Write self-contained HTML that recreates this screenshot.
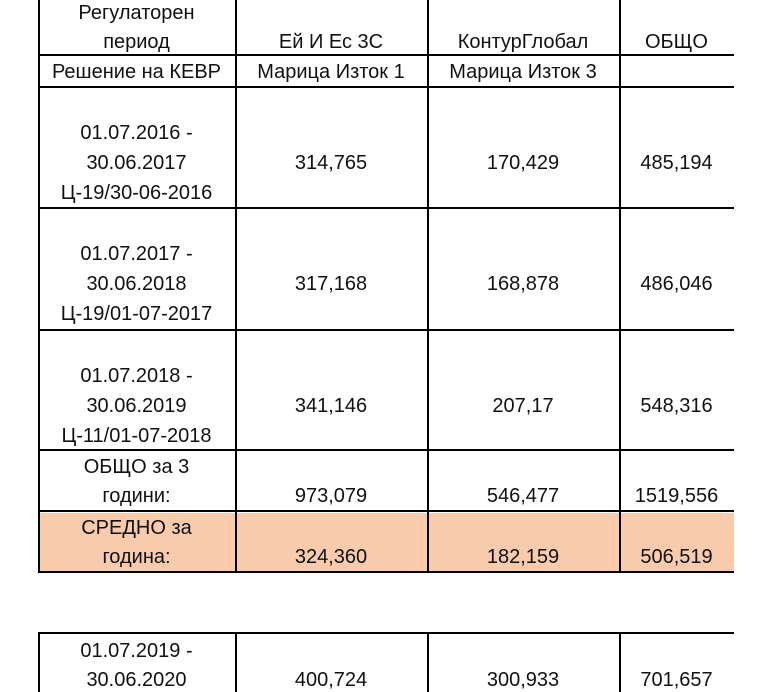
<!DOCTYPE html>
<html><head><meta charset="utf-8"><style>
body{margin:0;width:768px;height:692px;background:#fff;position:relative;overflow:hidden;font-family:"Liberation Sans","DejaVu Sans",sans-serif;font-size:20px;color:#111}
.h{position:absolute;height:1.5px;background:#000}
.v{position:absolute;width:1.5px;background:#000}
.t{position:absolute;text-align:center;line-height:20px;transform:translateY(-10px);white-space:nowrap}
.c0{left:38px;width:197px}.c1{left:235px;width:192px}.c2{left:427px;width:192px}.c3{left:619px;width:115px}
</style></head><body>
<div style="position:absolute;left:38px;top:513px;width:696px;height:59px;background:#f8cbad"></div>
<div class="h" style="left:38px;width:696px;top:54px"></div>
<div class="h" style="left:38px;width:696px;top:86px"></div>
<div class="h" style="left:38px;width:696px;top:207px"></div>
<div class="h" style="left:38px;width:696px;top:329px"></div>
<div class="h" style="left:38px;width:696px;top:449px"></div>
<div class="h" style="left:38px;width:696px;top:510px"></div>
<div class="h" style="left:38px;width:696px;top:571px"></div>
<div class="h" style="left:38px;width:696px;top:632px"></div>
<div class="v" style="left:38px;top:0;height:572px"></div>
<div class="v" style="left:235px;top:0;height:572px"></div>
<div class="v" style="left:427px;top:0;height:572px"></div>
<div class="v" style="left:619px;top:0;height:572px"></div>
<div class="v" style="left:38px;top:632px;height:60px"></div>
<div class="v" style="left:235px;top:632px;height:60px"></div>
<div class="v" style="left:427px;top:632px;height:60px"></div>
<div class="v" style="left:619px;top:632px;height:60px"></div>

<div class="t c0" style="top:13px">Регулаторен</div>
<div class="t c0" style="top:42px">период</div>
<div class="t c1" style="top:42px">Ей И Ес 3С</div>
<div class="t c2" style="top:42px">КонтурГлобал</div>
<div class="t c3" style="top:42px">ОБЩО</div>
<div class="t c0" style="top:72px">Решение на КЕВР</div>
<div class="t c1" style="top:72px">Марица Изток 1</div>
<div class="t c2" style="top:72px">Марица Изток 3</div>

<div class="t c0" style="top:133px">01.07.2016 -</div>
<div class="t c0" style="top:163px">30.06.2017</div>
<div class="t c0" style="top:193px">Ц-19/30-06-2016</div>
<div class="t c1" style="top:163px">314,765</div>
<div class="t c2" style="top:163px">170,429</div>
<div class="t c3" style="top:163px">485,194</div>

<div class="t c0" style="top:254px">01.07.2017 -</div>
<div class="t c0" style="top:284px">30.06.2018</div>
<div class="t c0" style="top:314px">Ц-19/01-07-2017</div>
<div class="t c1" style="top:284px">317,168</div>
<div class="t c2" style="top:284px">168,878</div>
<div class="t c3" style="top:284px">486,046</div>

<div class="t c0" style="top:376px">01.07.2018 -</div>
<div class="t c0" style="top:406px">30.06.2019</div>
<div class="t c0" style="top:436px">Ц-11/01-07-2018</div>
<div class="t c1" style="top:406px">341,146</div>
<div class="t c2" style="top:406px">207,17</div>
<div class="t c3" style="top:406px">548,316</div>

<div class="t c0" style="top:467px">ОБЩО за 3</div>
<div class="t c0" style="top:496px">години:</div>
<div class="t c1" style="top:496px">973,079</div>
<div class="t c2" style="top:496px">546,477</div>
<div class="t c3" style="top:496px">1519,556</div>

<div class="t c0" style="top:528px">СРЕДНО за</div>
<div class="t c0" style="top:557px">година:</div>
<div class="t c1" style="top:557px">324,360</div>
<div class="t c2" style="top:557px">182,159</div>
<div class="t c3" style="top:557px">506,519</div>

<div class="t c0" style="top:651px">01.07.2019 -</div>
<div class="t c0" style="top:680px">30.06.2020</div>
<div class="t c1" style="top:680px">400,724</div>
<div class="t c2" style="top:680px">300,933</div>
<div class="t c3" style="top:680px">701,657</div>
</body></html>
